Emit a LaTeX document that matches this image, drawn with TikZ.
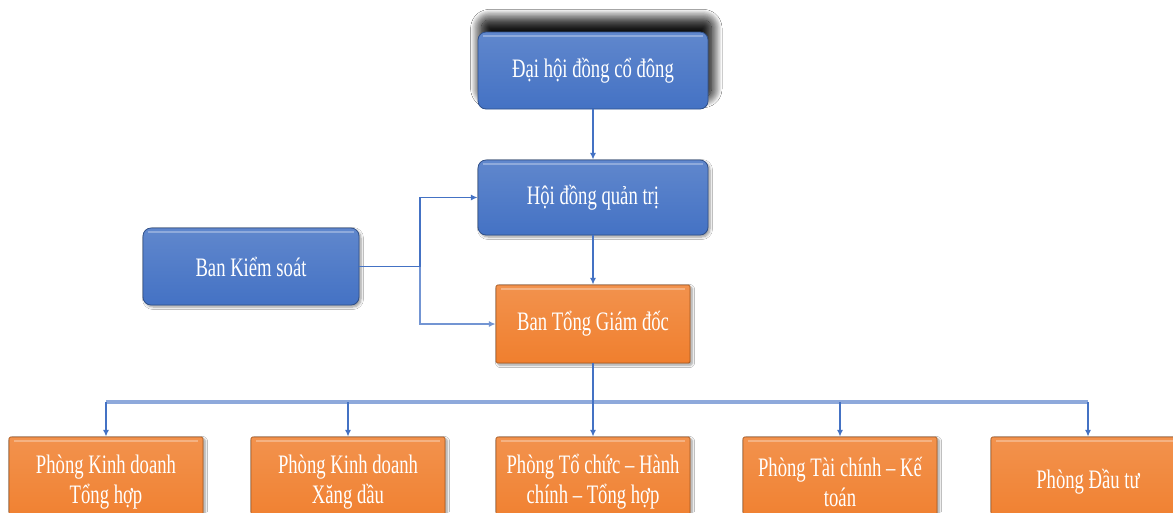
\documentclass[tikz,border=0pt]{standalone}
\usepackage{fontspec}
\setmainfont{Liberation Serif}
\newfontfamily\boxfont[FakeStretch=0.7]{Liberation Serif}
\usetikzlibrary{arrows.meta,shadows.blur}
\definecolor{boxblue}{HTML}{4472C4}
\definecolor{boxorange}{HTML}{F07F2E}
\definecolor{linkblue}{HTML}{4472C4}
\definecolor{buslight}{HTML}{8EA9DB}
\tikzset{
  bevel/.style={path picture={
    \draw[white,opacity=0.3,line width=2pt]
      ([xshift=4pt,yshift=-3pt]path picture bounding box.north west) --
      ([xshift=-4pt,yshift=-3pt]path picture bounding box.north east);}},
  bluebox/.style={draw=boxblue!70!black,line width=0.6pt,rounded corners=6pt,
    top color=boxblue!85!white,bottom color=boxblue,text=white,align=center,
    font=\boxfont\fontsize{20}{22.5}\selectfont,bevel,
    blur shadow={shadow xshift=1.5pt,shadow yshift=-1.5pt,shadow blur steps=6,shadow opacity=40}},
  orangebox/.style={draw=boxorange!70!black,line width=0.6pt,rounded corners=1pt,
    top color=boxorange!85!white,bottom color=boxorange,text=white,align=center,
    font=\boxfont\fontsize{20}{22.5}\selectfont,bevel,
    blur shadow={shadow xshift=1.5pt,shadow yshift=-1.5pt,shadow blur steps=6,shadow opacity=40}},
  dept/.style={orangebox,minimum width=145.5pt,minimum height=67.5pt},
  link/.style={draw=linkblue,line width=1.1pt,-{Latex[length=5pt,width=4.5pt]}},
  bus/.style={draw=buslight,line width=2.4pt}
}
\begin{document}
\begin{tikzpicture}[x=0.75pt,y=-0.75pt]
\useasboundingbox[fill=white] (0,0) rectangle (1173,512);
\begin{scope}
\clip (0,0) rectangle (1173,512);
% top level
\node[bluebox,minimum width=172.5pt,minimum height=57.75pt,
  blur shadow={shadow xshift=2.5pt,shadow yshift=9pt,shadow scale=1,
    shadow blur radius=8pt,shadow blur steps=20,shadow opacity=75}]
  (dhcd) at (593,70.5) {Đại hội đồng cổ đông};
\node[bluebox,minimum width=172.5pt,minimum height=56.25pt] (hdqt) at (593,197.5) {Hội đồng quản trị};
\node[bluebox,minimum width=162pt,minimum height=57.75pt] (bks) at (251,266.5) {Ban Kiểm soát};
\node[orangebox,minimum width=145.5pt,minimum height=58.5pt] (btgd) at (593,324) {Ban Tổng Giám đốc};
% phong ban
\node[dept] (pkdth) at (106,482) {Phòng Kinh doanh\\Tổng hợp};
\node[dept] (pkdxd) at (348,482) {Phòng Kinh doanh\\Xăng dầu};
\node[dept] (ptchc) at (593,482) {Phòng Tổ chức – Hành\\chính – Tổng hợp};
\node[dept] (ptckt) at (840,482) {Phòng Tài chính – Kế\\toán};
\node[dept] (pdt) at (1088,482) {Phòng Đầu tư};
% connectors
\draw[link] (dhcd) -- (hdqt);
\draw[link] (hdqt) -- (btgd);
\coordinate (ks) at (420,266.5);
\draw[draw=linkblue,line width=1.4pt] (bks.east) -- (ks);
\draw[link,line width=1.4pt] (ks) |- (hdqt.west);
\draw[link,draw=linkblue!75!white,line width=1.8pt] (ks) |- (btgd.west);
\coordinate (bus) at (593,402);
\draw[bus] (pkdth.north |- bus) -- (pdt.north |- bus);
\draw[draw=linkblue,line width=1.1pt] (btgd.south) -- (bus);
\foreach \d in {pkdth,pkdxd,ptchc,ptckt,pdt}
  \draw[link] (\d.north |- bus) -- (\d.north);
\end{scope}
\end{tikzpicture}
\end{document}
